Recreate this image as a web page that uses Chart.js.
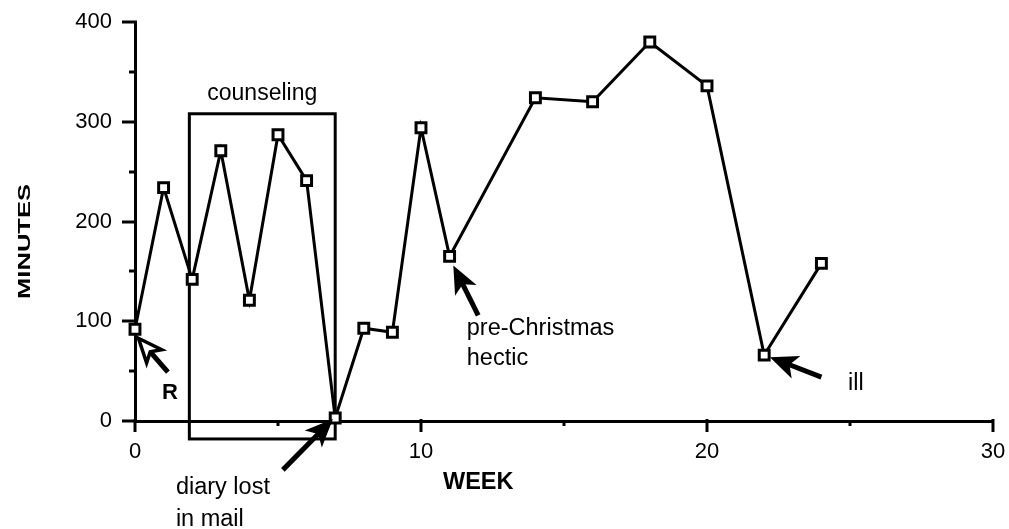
<!DOCTYPE html>
<html><head><meta charset="utf-8">
<script src="https://cdn.jsdelivr.net/npm/chart.js@4.4.0/dist/chart.umd.min.js"></script>
<style>html,body{margin:0;padding:0;background:#fff;}canvas{display:block;}</style>
</head><body>
<canvas id="c" width="1009" height="529"></canvas>
<script>
// ---- data ----
const weeks   = [0, 1, 2, 3, 4, 5, 6, 7, 8, 9, 10, 11, 14, 16, 18, 20, 22, 24];
const minutes = [92, 234, 142, 271, 121, 287, 241, 3, 93, 89, 294, 165, 324, 320, 380, 336, 66, 158];
const yMajorTicks = [0, 100, 200, 300, 400];
const yMinorTicks = [50, 150, 250, 350];
const xMajorTicks = [0, 10, 20, 30];
const xMinorTicks = [5, 15, 25];
const xTitle = 'WEEK';
const yTitle = 'MINUTES';
const counselingLabel = 'counseling';
const counselingWeeks = [1.9, 7.0];
const counselingMinutes = [-18, 308];

// annotations (data units)
const arrows = [
  {tip: [0.12, 83], tail: [1.15, 49], hollow: true},
  {tip: [6.92, 2], tail: [5.17, -49], hollow: false},
  {tip: [11.13, 156], tail: [12.0, 106], hollow: false},
  {tip: [22.2, 64], tail: [24.0, 44], hollow: false}
];
const notes = [
  {text: 'R', at: [1.22, 28], bold: true, align: 'center'},
  {text: 'diary lost', at: [1.43, -67], bold: false, align: 'left'},
  {text: 'in mail', at: [1.43, -99], bold: false, align: 'left'},
  {text: 'pre-Christmas', at: [11.6, 93], bold: false, align: 'left'},
  {text: 'hectic', at: [11.6, 63], bold: false, align: 'left'},
  {text: 'ill', at: [24.93, 38], bold: false, align: 'left'}
];

const FONT = '"Liberation Sans", Arial, Helvetica, sans-serif';
const points = weeks.map((w, i) => ({x: w, y: minutes[i]}));

function drawArrow(ctx, tx, ty, sx, sy, hollow) {
  const ang = Math.atan2(ty - sy, tx - sx);
  const total = Math.hypot(tx - sx, ty - sy);
  const L = hollow ? 24 : 28, W = hollow ? 20 : 24;
  ctx.save();
  ctx.translate(tx, ty);
  ctx.rotate(ang);
  ctx.strokeStyle = '#000';
  ctx.lineCap = 'butt';
  ctx.lineWidth = 5;
  ctx.beginPath();
  ctx.moveTo(-total, 0);
  ctx.lineTo(-L * 0.7, 0);
  ctx.stroke();
  ctx.beginPath();
  ctx.moveTo(0, 0);
  ctx.lineTo(-L, W / 2);
  ctx.lineTo(-L * 0.75, 0);
  ctx.lineTo(-L, -W / 2);
  ctx.closePath();
  if (hollow) {
    ctx.fillStyle = '#fff';
    ctx.fill();
    ctx.lineWidth = 3.5;
    ctx.lineJoin = 'miter';
    ctx.stroke();
  } else {
    ctx.fillStyle = '#000';
    ctx.fill();
  }
  ctx.restore();
}

function noOverflow(s) {
  s.paddingTop = 0; s.paddingBottom = 0; s.paddingLeft = 0; s.paddingRight = 0;
}

const decor = {
  id: 'decor',
  beforeDatasetsDraw(chart) {
    const {ctx, scales: {x, y}} = chart;
    ctx.save();
    ctx.strokeStyle = '#000';
    ctx.lineWidth = 3;
    const x0 = x.getPixelForValue(counselingWeeks[0]), x1 = x.getPixelForValue(counselingWeeks[1]);
    const y0 = y.getPixelForValue(counselingMinutes[0]), y1 = y.getPixelForValue(counselingMinutes[1]);
    ctx.strokeRect(x0, y1, x1 - x0, y0 - y1);
    ctx.fillStyle = '#000';
    ctx.font = '23px ' + FONT;
    ctx.textAlign = 'center';
    ctx.textBaseline = 'middle';
    ctx.fillText(counselingLabel, (x0 + x1) / 2, y1 - 20);
    ctx.restore();
  },
  afterDraw(chart) {
    const {ctx, scales: {x, y}, chartArea} = chart;
    ctx.save();
    ctx.strokeStyle = '#000';
    ctx.lineWidth = 3;
    const L = chartArea.left, B = chartArea.bottom;
    yMajorTicks.forEach(v => { const p = Math.round(y.getPixelForValue(v)); ctx.beginPath(); ctx.moveTo(L - 13, p); ctx.lineTo(L + 2, p); ctx.stroke(); });
    yMinorTicks.forEach(v => { const p = Math.round(y.getPixelForValue(v)); ctx.beginPath(); ctx.moveTo(L - 6, p); ctx.lineTo(L, p); ctx.stroke(); });
    xMajorTicks.forEach(v => { const p = Math.round(x.getPixelForValue(v)); ctx.beginPath(); ctx.moveTo(p, B - 2); ctx.lineTo(p, B + 11); ctx.stroke(); });
    xMinorTicks.forEach(v => { const p = Math.round(x.getPixelForValue(v)); ctx.beginPath(); ctx.moveTo(p, B); ctx.lineTo(p, B + 5); ctx.stroke(); });

    arrows.forEach(a => drawArrow(ctx, x.getPixelForValue(a.tip[0]), y.getPixelForValue(a.tip[1]),
      x.getPixelForValue(a.tail[0]), y.getPixelForValue(a.tail[1]), a.hollow));

    ctx.fillStyle = '#000';
    ctx.textBaseline = 'middle';
    notes.forEach(n => {
      ctx.font = (n.bold ? 'bold 22px ' : '23.5px ') + FONT;
      ctx.textAlign = n.align;
      ctx.fillText(n.text, x.getPixelForValue(n.at[0]), y.getPixelForValue(n.at[1]));
    });

    // axis titles
    ctx.font = 'bold 23.5px ' + FONT;
    ctx.textAlign = 'center';
    ctx.fillText(xTitle, x.getPixelForValue(12), B + 62);

    ctx.save();
    ctx.translate(26, y.getPixelForValue(180));
    ctx.rotate(-Math.PI / 2);
    ctx.scale(1.6, 1);
    ctx.font = 'bold 16px ' + FONT;
    ctx.textAlign = 'center';
    ctx.fillText(yTitle, 0, 0);
    ctx.restore();
    ctx.restore();
  }
};

new Chart(document.getElementById('c'), {
  type: 'scatter',
  data: {
    datasets: [
      {
        data: points, showLine: true, borderColor: '#000', borderWidth: 3,
        pointStyle: 'rect', pointRadius: 7, pointBorderWidth: 3,
        pointBackgroundColor: '#fff', pointBorderColor: '#000', clip: false
      },
      {
        data: points, showLine: false, pointStyle: 'circle', pointRadius: 1.5,
        pointBorderWidth: 0, pointBackgroundColor: '#000', clip: false
      }
    ]
  },
  options: {
    responsive: false, animation: false, devicePixelRatio: 1,
    layout: {padding: {left: 0, top: 22, right: 16, bottom: 0}},
    plugins: {legend: {display: false}, tooltip: {enabled: false}},
    scales: {
      x: {
        type: 'linear', min: 0, max: 30,
        afterFit(s) { s.height = 108; noOverflow(s); },
        grid: {display: false, drawTicks: false, tickLength: 0},
        border: {display: true, color: '#000', width: 3},
        ticks: {stepSize: 10, padding: 18, color: '#000', maxRotation: 0, autoSkip: false,
                font: {family: FONT, size: 22}}
      },
      y: {
        type: 'linear', min: 0, max: 400,
        afterFit(s) { s.width = 135; noOverflow(s); },
        grid: {display: false, drawTicks: false, tickLength: 0},
        border: {display: true, color: '#000', width: 3},
        ticks: {stepSize: 100, padding: 23, color: '#000', font: {family: FONT, size: 22}}
      }
    }
  },
  plugins: [decor]
});
</script>
</body></html>
